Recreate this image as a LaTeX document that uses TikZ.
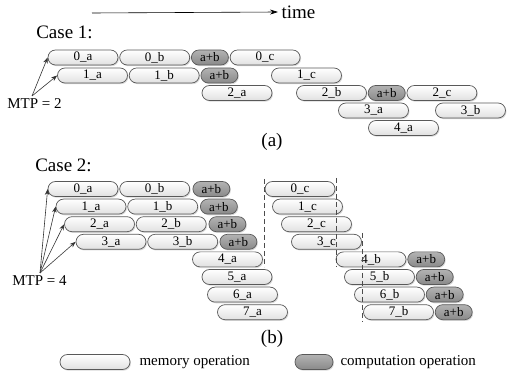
\documentclass[tikz,border=0pt]{standalone}
\usepackage{fontspec}
\setmainfont{Liberation Serif}
\usetikzlibrary{positioning}
\usetikzlibrary{arrows.meta}
\usetikzlibrary{shapes.misc}
\usetikzlibrary{shadows}

\begin{document}
\begin{tikzpicture}[x=1pt, y=-1pt,
    memop/.style={rounded rectangle, draw=black!65, line width=0.7pt,
        top color=white, bottom color=black!12, minimum width=70pt,
        minimum height=15pt, inner sep=0pt, font=\fontsize{13}{13}\selectfont,
        drop shadow={shadow xshift=1pt, shadow yshift=-1.2pt, opacity=0.3}},
    compop/.style={memop, top color=black!30, bottom color=black!46, minimum width=37pt},
    title/.style={font=\fontsize{19}{19}\selectfont},
    note/.style={font=\fontsize{15}{15}\selectfont},
    mtparrow/.style={-{Stealth[length=6pt, width=4.5pt]}, black!80, line width=0.6pt},
    split/.style={black!70, line width=0.6pt, dash pattern=on 5pt off 3pt}]
    \useasboundingbox (0,0) rectangle (507,379);

    % time axis
    \coordinate (t0) at (92,13);
    \node[title, anchor=west] (time) at (278,12) {time};
    \draw[-{Stealth[length=8pt, width=5pt]}, line width=0.6pt] (t0) -- (time.west);

    % case 1
    \node[title] (case1) at (64.5,32) {Case 1:};
    \node[memop] (a0a) at (83,57.5) {0\_a};
    \node[memop, right=1pt of a0a] (a0b) {0\_b};
    \node[compop, right=1pt of a0b] (a0ab) {a+b};
    \node[memop, right=1pt of a0ab] (a0c) {0\_c};
    \node[memop] (a1a) at (92.5,75.5) {1\_a};
    \node[memop, right=1pt of a1a] (a1b) {1\_b};
    \node[compop, right=1pt of a1b] (a1ab) {a+b};
    \node[memop] (a1c) at (306.5,75.5) {1\_c};
    \node[memop] (a2a) at (237,93) {2\_a};
    \node[memop] (a2b) at (331.5,93) {2\_b};
    \node[compop, right=1pt of a2b] (a2ab) {a+b};
    \node[memop, right=1pt of a2ab] (a2c) {2\_c};
    \node[memop] (a3a) at (373.5,110.5) {3\_a};
    \node[memop] (a3b) at (470.5,110.5) {3\_b};
    \node[memop] (a4a) at (403.5,128) {4\_a};
    \node[note] (mtp2) at (34.5,104) {MTP = 2};
    \coordinate (mtp2top) at (32,96);
    \draw[mtparrow] (mtp2top) -- (a0a.west);
    \draw[mtparrow] (mtp2top) -- (a1a.west);
    \node[title] (capa) at (272,142) {(a)};

    % case 2
    \node[title] (case2) at (63.5,165) {Case 2:};
    \node[memop] (b0a) at (83,189) {0\_a};
    \node[memop, right=1pt of b0a] (b0b) {0\_b};
    \node[compop, right=2.5pt of b0b] (b0ab) {a+b};
    \node[memop] (b1a) at (91,206.6) {1\_a};
    \node[memop, right=1pt of b1a] (b1b) {1\_b};
    \node[compop, right=2pt of b1b] (b1ab) {a+b};
    \node[memop] (b2a) at (99.5,224.2) {2\_a};
    \node[memop, right=1pt of b2a] (b2b) {2\_b};
    \node[compop, right=2pt of b2b] (b2ab) {a+b};
    \node[memop] (b3a) at (111,241.8) {3\_a};
    \node[memop, right=1pt of b3a] (b3b) {3\_b};
    \node[compop, right=1.5pt of b3b] (b3ab) {a+b};
    \node[memop] (b4a) at (227.5,259.4) {4\_a};
    \node[memop] (b5a) at (237,277) {5\_a};
    \node[memop] (b6a) at (242.5,294.6) {6\_a};
    \node[memop] (b7a) at (252.5,312.2) {7\_a};
    \node[memop] (b0c) at (300,189) {0\_c};
    \node[memop] (b1c) at (307.5,206.6) {1\_c};
    \node[memop] (b2c) at (316.5,224.2) {2\_c};
    \node[memop] (b3c) at (326.5,241.8) {3\_c};
    \node[memop] (b4b) at (371,259.4) {4\_b};
    \node[compop, right=1pt of b4b] (b4ab) {a+b};
    \node[memop] (b5b) at (379.5,277) {5\_b};
    \node[compop, right=1pt of b5b] (b5ab) {a+b};
    \node[memop] (b6b) at (389.5,294.6) {6\_b};
    \node[compop, right=1pt of b6b] (b6ab) {a+b};
    \node[memop] (b7b) at (398.5,312.2) {7\_b};
    \node[compop, right=1pt of b7b] (b7ab) {a+b};
    \node[note] (mtp4) at (39.5,281) {MTP = 4};
    \coordinate (mtp4top) at (40,273);
    \draw[mtparrow] (mtp4top) -- (b0a.west);
    \draw[mtparrow] (mtp4top) -- (b1a.west);
    \draw[mtparrow] (mtp4top) -- (b2a.west);
    \draw[mtparrow] (mtp4top) -- (b3a.west);
    \coordinate (s1a) at (264,179);
    \coordinate (s1b) at (264,267);
    \coordinate (s2a) at (336,178);
    \coordinate (s2b) at (336,267);
    \coordinate (s3a) at (362,233);
    \coordinate (s3b) at (362,322);
    \draw[split] (s1a) -- (s1b);
    \draw[split] (s2a) -- (s2b);
    \draw[split] (s3a) -- (s3b);
    \node[title] (capb) at (272,339) {(b)};

    % legend
    \node[memop] (lmem) at (95,362) {};
    \node[note, anchor=west] (lmemtext) at (136,362) {memory operation};
    \node[compop, minimum width=38pt] (lcomp) at (314,362) {};
    \node[note, anchor=west] (lcomptext) at (337,362) {computation operation};
\end{tikzpicture}
\end{document}
